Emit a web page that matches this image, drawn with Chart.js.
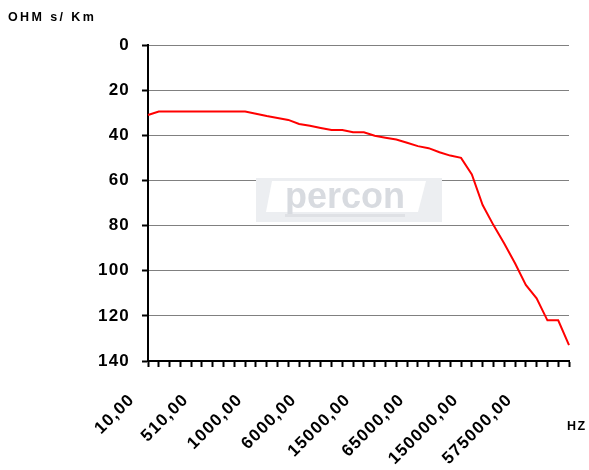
<!DOCTYPE html>
<html><head><meta charset="utf-8">
<script src="https://cdn.jsdelivr.net/npm/chart.js@4.4.1/dist/chart.umd.min.js"></script>
<style>
html,body{margin:0;padding:0;background:#fff;}
#wrap{position:relative;width:589px;height:470px;overflow:hidden;}
canvas{position:absolute;left:0;top:0;}
.lbl{position:absolute;font-family:"Liberation Sans",Arial,sans-serif;font-weight:bold;color:#000;white-space:nowrap;line-height:1;}
</style></head><body>
<div id="wrap"><canvas id="c" width="589" height="470"></canvas>
<div class="lbl" style="left:8px;top:11px;font-size:12.5px;letter-spacing:2.4px">OHM s/ Km</div>
<div class="lbl" style="left:567px;top:420px;font-size:12.5px;letter-spacing:1.5px">HZ</div>
</div>
<script>
// Frequencies (Hz) – category axis; every 5th is labelled
const frequencies = [10,110,210,310,410,510,600,700,800,900,
  1000,2000,3000,4000,5000,6000,8000,10000,12000,14000,
  15000,25000,35000,45000,55000,65000,85000,105000,125000,140000,
  150000,250000,350000,450000,500000,575000,700000,800000,900000,1000000];
// Resistance (OHM s/Km)
const resistance = [31,29.5,29.5,29.5,29.5,29.5,29.5,29.5,29.5,29.5,
  30.5,31.5,32.3,33.2,35,35.8,36.8,37.7,37.7,38.7,
  38.7,40.2,41.1,41.9,43.3,44.8,45.7,47.5,49,50,
  57.3,70.9,79.8,87.9,96.7,106.3,112.2,122,122,133];
const yTicks = [0,20,40,60,80,100,120,140];
const labelEvery = 5;

const fmt = v => v.toFixed(2).replace('.', ',');

const spacing = {
  id: 'spacing',
  beforeDraw(chart){ chart.ctx.letterSpacing = '1.2px'; }
};
const watermark = {
  id: 'watermark',
  beforeDatasetsDraw(chart){
    const ctx = chart.ctx;
    ctx.save();
    ctx.letterSpacing = '0px';
    ctx.fillStyle = '#eceef1';
    ctx.fillRect(256, 178, 186, 44);
    ctx.fillStyle = '#ffffff';
    ctx.beginPath();
    ctx.moveTo(272,181); ctx.lineTo(426,181); ctx.lineTo(418,212); ctx.lineTo(266,212);
    ctx.closePath(); ctx.fill();
    ctx.fillStyle = '#d8dbe0';
    ctx.font = 'bold 36px "Liberation Sans", Arial, sans-serif';
    ctx.textAlign = 'center'; ctx.textBaseline = 'alphabetic';
    ctx.fillText('percon', 345, 208);
    ctx.fillStyle = '#dfe1e5';
    ctx.fillRect(285, 214, 120, 3);
    ctx.restore();
  }
};

new Chart(document.getElementById('c'), {
  type: 'line',
  data: {
    labels: frequencies,
    datasets: [{
      data: resistance,
      borderColor: '#ff0000',
      borderWidth: 2,
      pointRadius: 0,
      tension: 0,
      fill: false
    }]
  },
  options: {
    responsive: false,
    animation: false,
    devicePixelRatio: 1,
    layout: { padding: { top: 45, right: 20, left: 0, bottom: 0 } },
    plugins: { legend: { display: false }, tooltip: { enabled: false } },
    scales: {
      x: {
        type: 'category',
        offset: false,
        afterFit(scale){ scale.height = 109; scale.paddingRight = 0; scale.paddingLeft = 0; },
        border: { display: true, color: '#000', width: 2 },
        grid: { drawOnChartArea: false, drawTicks: true, tickLength: 6, tickColor: '#000', tickWidth: 2 },
        ticks: {
          autoSkip: false, maxRotation: 45, minRotation: 45,
          padding: 23, labelOffset: -16,
          color: '#000',
          font: { family: '"Liberation Sans", Arial, sans-serif', size: 17, weight: 'bold' },
          callback(v, i){ return i % labelEvery === 0 ? fmt(frequencies[i]) : ''; }
        }
      },
      y: {
        type: 'linear',
        reverse: true,
        min: yTicks[0], max: yTicks[yTicks.length-1],
        afterFit(scale){ scale.width = 148; },
        afterBuildTicks(scale){ scale.ticks = yTicks.map(v => ({ value: v })); },
        border: { display: true, color: '#000', width: 2 },
        grid: { color: '#808080', lineWidth: 1, borderDash: [2,1], tickBorderDash: [], tickColor: '#000', tickLength: 6, tickWidth: 2 },
        ticks: {
          padding: 12, color: '#000',
          font: { family: '"Liberation Sans", Arial, sans-serif', size: 17, weight: 'bold' }
        }
      }
    }
  },
  plugins: [spacing, watermark]
});
</script>
</body></html>
